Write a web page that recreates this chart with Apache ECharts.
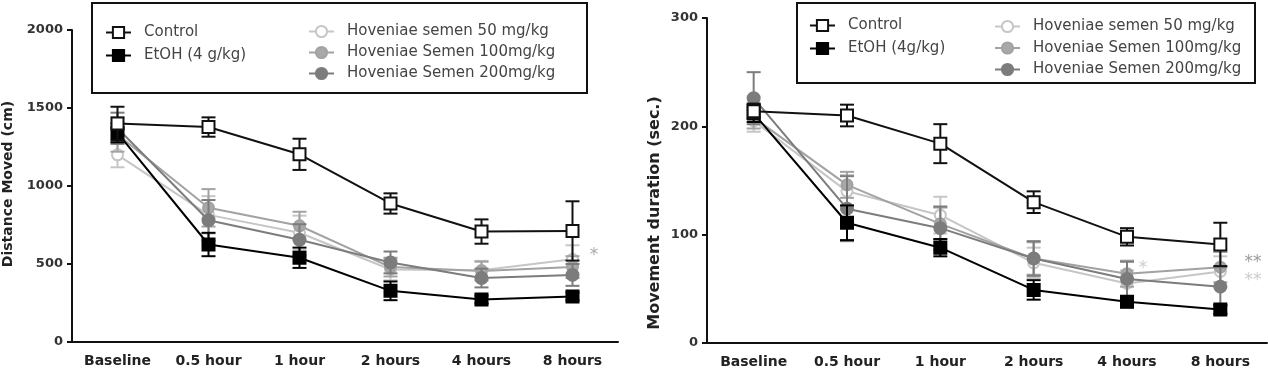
<!DOCTYPE html>
<html>
<head>
<meta charset="utf-8">
<script src="https://cdn.jsdelivr.net/npm/echarts@6/dist/echarts.min.js"></script>
<style>html,body{margin:0;padding:0;background:#fff;}#c{width:1268px;height:372px;}</style>
</head>
<body>
<div id="c"></div>
<script>
const categories = ['Baseline', '0.5 hour', '1 hour', '2 hours', '4 hours', '8 hours'];

// Left panel: Distance moved (cm)
const distControl    = [1400, 1378, 1203, 888, 708, 712];
const distControlErr = [108, 62, 100, 65, 78, 190];
const distEtOH       = [1340, 625, 540, 328, 272, 292];
const distEtOHErr    = [60, 75, 65, 60, 25, 25];
const distHS50       = [1200, 815, 700, 465, 460, 530];
const distHS50Err    = [80, 120, 110, 70, 60, 90];
const distHS100      = [1330, 860, 745, 480, 455, 480];
const distHS100Err   = [110, 120, 90, 60, 60, 70];
const distHS200      = [1370, 780, 655, 510, 410, 430];
const distHS200Err   = [100, 130, 100, 70, 60, 70];

// Right panel: Movement duration (sec.)
const durControl    = [214, 210, 184, 130, 98, 91];
const durControlErr = [7, 10, 18, 10, 8, 20];
const durEtOH       = [212, 111, 88, 49, 38, 31];
const durEtOHErr    = [8, 16, 8, 9, 5, 4];
const durHS50       = [205, 140, 118, 74, 55, 66];
const durHS50Err    = [10, 15, 17, 14, 12, 14];
const durHS100      = [208, 146, 110, 78, 64, 70];
const durHS100Err   = [10, 12, 15, 15, 12, 14];
const durHS200      = [226, 124, 106, 78, 59, 52];
const durHS200Err   = [24, 30, 20, 16, 16, 18];

const leftYTicks = [0, 500, 1000, 1500, 2000];
const rightYTicks = [0, 100, 200, 300];

const nameControl = 'Control';
const nameEtOHL = 'EtOH (4 g/kg)';
const nameEtOHR = 'EtOH (4g/kg)';
const nameHS50 = 'Hoveniae semen 50 mg/kg';
const nameHS100 = 'Hoveniae Semen 100mg/kg';
const nameHS200 = 'Hoveniae Semen 200mg/kg';

const FONT = '"DejaVu Sans", "Liberation Sans", Arial, sans-serif';
const styles = {
  control: {color: '#111', symbol: 'rect', fill: '#fff', size: 12},
  etoh:    {color: '#000', symbol: 'rect', fill: '#000', size: 12},
  hs50:    {color: '#c6c6c6', symbol: 'circle', fill: '#fff', size: 11},
  hs100:   {color: '#a2a2a2', symbol: 'circle', fill: '#a8a8a8', size: 11},
  hs200:   {color: '#7c7c7c', symbol: 'circle', fill: '#7c7c7c', size: 12}
};

function lineSeries(name, data, st, idx, z) {
  return {
    type: 'line', name: name, xAxisIndex: idx, yAxisIndex: idx, data: data,
    symbol: st.symbol, symbolSize: st.size, z: z,
    lineStyle: {color: st.color, width: 2},
    itemStyle: {color: st.fill, borderColor: st.color, borderWidth: 2},
    emphasis: {disabled: true}, animation: false
  };
}
function errSeries(name, vals, errs, st, idx, z) {
  return {
    type: 'custom', name: name + ' err', xAxisIndex: idx, yAxisIndex: idx, z: z,
    data: vals.map((v, i) => [i, v, errs[i]]),
    encode: {x: 0, y: 1},
    renderItem: function (params, api) {
      const i = api.value(0), v = api.value(1), e = api.value(2);
      const hi = api.coord([i, v + e]);
      const lo = api.coord([i, v - e]);
      const hw = 7;
      const ls = {stroke: st.color, lineWidth: 2};
      return {type: 'group', children: [
        {type: 'line', shape: {x1: hi[0], y1: hi[1], x2: lo[0], y2: lo[1]}, style: ls},
        {type: 'line', shape: {x1: hi[0] - hw, y1: hi[1], x2: hi[0] + hw, y2: hi[1]}, style: ls},
        {type: 'line', shape: {x1: lo[0] - hw, y1: lo[1], x2: lo[0] + hw, y2: lo[1]}, style: ls}
      ]};
    },
    animation: false, silent: true
  };
}

function xAxis(idx) {
  return {
    type: 'category', gridIndex: idx, data: categories, boundaryGap: true,
    axisLine: {lineStyle: {color: '#111', width: 2}},
    axisTick: {alignWithLabel: true, length: 5, lineStyle: {color: '#111', width: 2}},
    axisLabel: {color: '#222', fontSize: 14, fontWeight: 'bold', fontFamily: FONT, margin: 12}
  };
}
function yAxis(idx, ticks) {
  return {
    type: 'value', gridIndex: idx, min: ticks[0], max: ticks[ticks.length - 1],
    interval: ticks[1] - ticks[0],
    axisLine: {show: true, lineStyle: {color: '#111', width: 2}},
    axisTick: {show: true, length: 5, lineStyle: {color: '#111', width: 2}},
    axisLabel: {color: '#333', fontSize: 13, fontWeight: 'bold', fontFamily: FONT, margin: 9,
                formatter: v => String(v)},
    splitLine: {show: false}
  };
}

function legend(left, top, data, gap) {
  return {
    left: left, top: top, orient: 'vertical', data: data, selectedMode: false,
    itemWidth: 25, itemHeight: 14, itemGap: gap,
    textStyle: {fontSize: 15, color: '#444', fontFamily: FONT, padding: [0, 0, 0, 8]}
  };
}

const series = [];
// left panel
[[nameHS50, distHS50, distHS50Err, styles.hs50],
 [nameHS100, distHS100, distHS100Err, styles.hs100],
 [nameHS200, distHS200, distHS200Err, styles.hs200],
 [nameEtOHL, distEtOH, distEtOHErr, styles.etoh],
 [nameControl, distControl, distControlErr, styles.control]].forEach((s, k) => {
  series.push(errSeries(s[0], s[1], s[2], s[3], 0, 2 + k * 2));
  series.push(lineSeries(s[0], s[1], s[3], 0, 3 + k * 2));
});
// right panel
[[nameHS50, durHS50, durHS50Err, styles.hs50],
 [nameHS100, durHS100, durHS100Err, styles.hs100],
 [nameHS200, durHS200, durHS200Err, styles.hs200],
 [nameEtOHR, durEtOH, durEtOHErr, styles.etoh],
 [nameControl, durControl, durControlErr, styles.control]].forEach((s, k) => {
  series.push(errSeries(s[0], s[1], s[2], s[3], 1, 2 + k * 2));
  series.push(lineSeries(s[0], s[1], s[3], 1, 3 + k * 2));
});

const txt = (x, y, text, size, fill, rot, weight) => ({
  type: 'text', x: x, y: y, rotation: rot || 0, z: 50,
  style: {text: text, fontSize: size, fontWeight: weight || 'normal', fontFamily: FONT,
          fill: fill, align: 'center', verticalAlign: 'middle'}
});

const option = {
  backgroundColor: '#fff',
  animation: false,
  grid: [
    {left: 72, right: 650, top: 30, bottom: 30},
    {left: 707, right: 1, top: 18, bottom: 29}
  ],
  xAxis: [xAxis(0), xAxis(1)],
  yAxis: [yAxis(0, leftYTicks), yAxis(1, rightYTicks)],
  legend: [
    legend(100, 20, [nameControl, nameEtOHL], 8),
    legend(303, 19, [nameHS50, nameHS100, nameHS200], 6),
    legend(804, 13, [nameControl, nameEtOHR], 8),
    legend(989, 14, [nameHS50, nameHS100, nameHS200], 6.5)
  ],
  graphic: [
    {type: 'rect', shape: {x: 92, y: 3, width: 495, height: 90}, style: {fill: 'none', stroke: '#111', lineWidth: 2}, z: 40},
    {type: 'rect', shape: {x: 797, y: 3, width: 458, height: 80}, style: {fill: 'none', stroke: '#111', lineWidth: 2}, z: 40},
    txt(8, 184, 'Distance Moved (cm)', 14, '#222', Math.PI / 2, 'bold'),
    txt(655, 213, 'Movement duration (sec.)', 16, '#222', Math.PI / 2, 'bold'),
    txt(594, 256, '*', 17, '#aaaaaa'),
    txt(1253, 263, '**', 17, '#999999'),
    txt(1253, 281, '**', 17, '#cccccc'),
    txt(1143, 269, '*', 17, '#cccccc')
  ],
  series: series
};

const chart = echarts.init(document.getElementById('c'), null, {renderer: 'canvas'});
chart.setOption(option);
</script>
</body>
</html>
